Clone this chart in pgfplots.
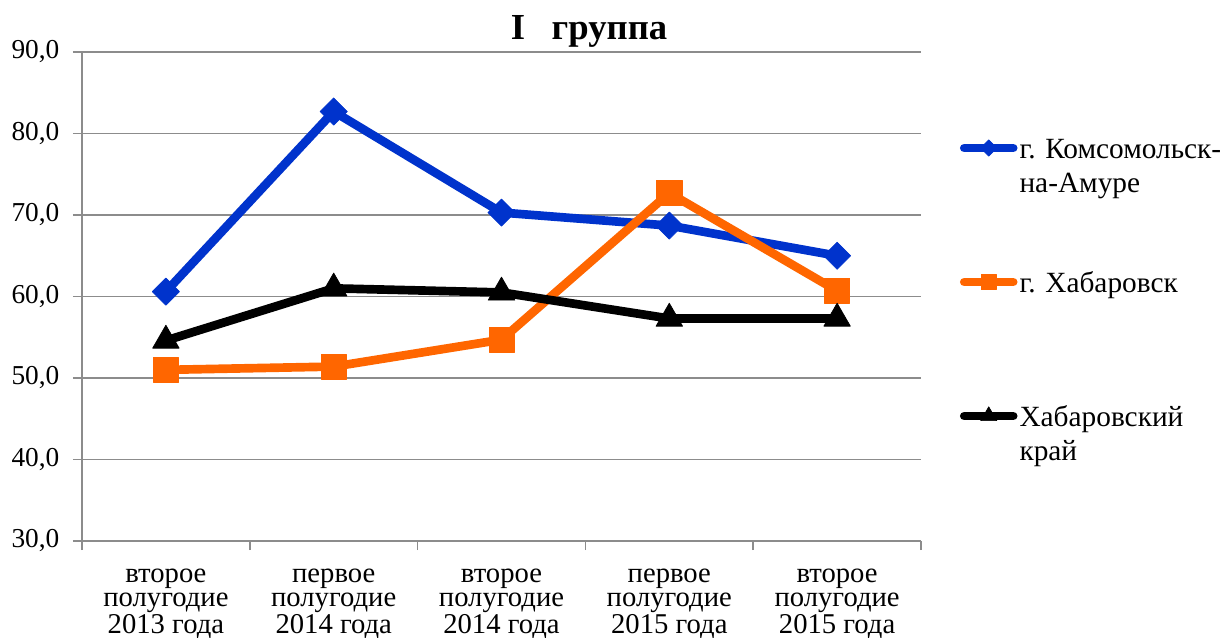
\documentclass[border=0pt]{standalone}
\usepackage{fontspec}
\setmainfont{Liberation Serif}
\usepackage{pgfplots}
\pgfplotsset{compat=1.18}

\definecolor{kblue}{RGB}{0,51,204}
\definecolor{korange}{RGB}{255,102,0}
\definecolor{gridgray}{RGB}{140,140,140}

\begin{document}
\begin{tikzpicture}
\useasboundingbox (0,0) rectangle (922.5pt,477.75pt);
\begin{axis}[
    at={(61.5pt,72pt)}, anchor=south west,
    scale only axis, width=629.25pt, height=366.75pt,
    xmin=-0.5, xmax=4.5, ymin=30, ymax=90,
    axis lines*=left,
    axis line style={gridgray, line width=1.25pt},
    ytick={30,40,...,90},
    ymajorgrids, grid style={gridgray, line width=1.25pt},
    tick align=outside, major tick length=6.75pt, minor tick length=6.75pt,
    every tick/.style={gridgray, line width=1.25pt},
    xtick={0,...,4},
    major x tick style={draw=none},
    minor xtick={-0.5,0.5,1.5,2.5,3.5,4.5},
    xticklabels={{второе\\полугодие\\2013 года},{первое\\полугодие\\2014 года},{второе\\полугодие\\2014 года},{первое\\полугодие\\2015 года},{второе\\полугодие\\2015 года}},
    xticklabel style={align=center, font=\fontsize{21.5}{18}\selectfont, inner sep=0pt, yshift=-14pt},
    yticklabel style={font=\fontsize{20.5}{22}\selectfont, inner sep=0pt, xshift=-10pt},
    /pgf/number format/.cd, fixed, fixed zerofill, precision=1, use comma, assume math mode=true,
    /pgfplots/.cd,
    title={I\hspace{20pt}группа},
    title style={font=\fontsize{27.5}{30}\selectfont\bfseries, at={(axis description cs:0.6043,0.9918)}, anchor=south, inner sep=0pt},
    legend style={draw=none, fill=none, inner sep=0pt, outer sep=0pt,
        at={(axis description cs:1.0464,0.8323)}, anchor=north west,
        row sep=49.5pt, column sep=1.5pt,
        font=\fontsize{22}{25.5}\selectfont,
        cells={anchor=base west},
        nodes={inner sep=0pt, text height=18pt, text depth=33pt}},
    legend image code/.code={\draw[line cap=round, mark repeat=2, mark phase=2, every mark/.append style={scale=0.6}] plot coordinates {(3.4pt,7.5pt) (21.75pt,7.5pt) (40.1pt,7.5pt)};},
]
\addplot[kblue, line width=6.5pt, line join=round, mark=square*, mark size=7.2pt, mark options={rotate=45, solid, line width=0.5pt}]
    coordinates {(0,60.6) (1,82.7) (2,70.3) (3,68.7) (4,65.0)};
\addlegendentry{\parbox[t]{190pt}{г. Комсомольск-\\на-Амуре}}
\addplot[korange, line width=6.5pt, line join=round, mark=square*, mark size=9.4pt, mark options={solid, line width=0.5pt}]
    coordinates {(0,51.0) (1,51.4) (2,54.7) (3,72.7) (4,60.7)};
\addlegendentry{\parbox[t]{190pt}{г. Хабаровск}}
\addplot[black, line width=6.5pt, line join=round, mark=triangle*, mark size=11.5pt, mark options={solid, line width=0.5pt}]
    coordinates {(0,54.6) (1,61.0) (2,60.5) (3,57.3) (4,57.3)};
\addlegendentry{\parbox[t]{190pt}{Хабаровский\\край}}
\end{axis}
\end{tikzpicture}
\end{document}
